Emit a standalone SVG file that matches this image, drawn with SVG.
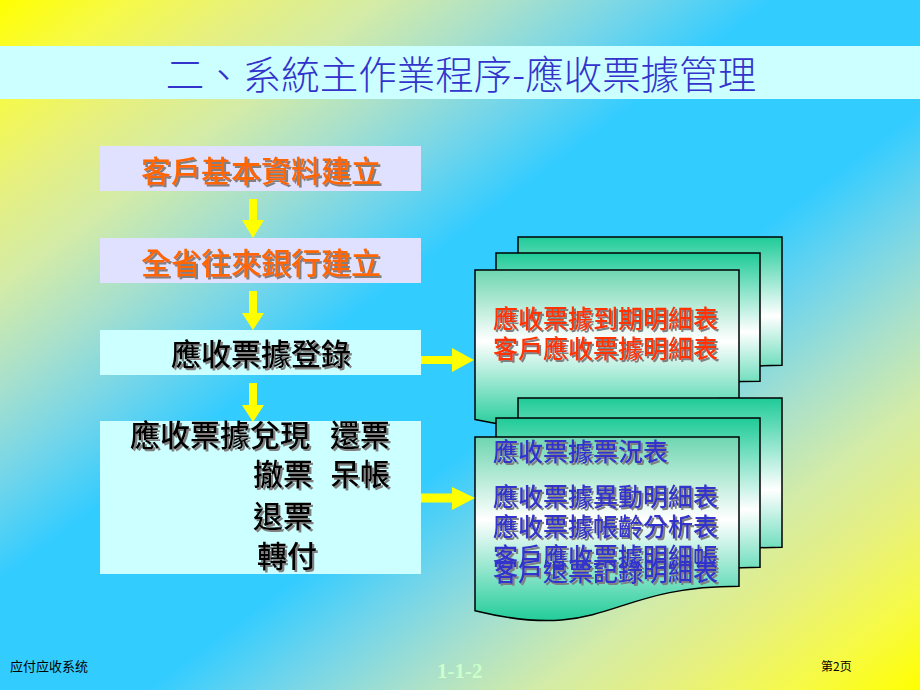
<svg xmlns="http://www.w3.org/2000/svg" width="920" height="690" viewBox="0 0 920 690">
<defs>
<linearGradient id="bg" x1="0" y1="0" x2="1" y2="1">
<stop offset="0" stop-color="#FFFF00"/>
<stop offset="0.07" stop-color="#F6FA48"/>
<stop offset="0.14" stop-color="#E6F080"/>
<stop offset="0.21" stop-color="#D2EBA8"/>
<stop offset="0.28" stop-color="#A8E0CC"/>
<stop offset="0.35" stop-color="#72D5EA"/>
<stop offset="0.42" stop-color="#33CCFF"/>
<stop offset="0.58" stop-color="#33CCFF"/>
<stop offset="0.65" stop-color="#72D5EA"/>
<stop offset="0.72" stop-color="#A8E0CC"/>
<stop offset="0.79" stop-color="#D2EBA8"/>
<stop offset="0.86" stop-color="#E6F080"/>
<stop offset="0.93" stop-color="#F6FA48"/>
<stop offset="1" stop-color="#FFFF00"/>
</linearGradient>
<linearGradient id="docFill" x1="0" y1="0" x2="0" y2="1">
<stop offset="0" stop-color="#1ECB98"/>
<stop offset="0.5" stop-color="#FFFFFF"/>
<stop offset="1" stop-color="#1ECB98"/>
</linearGradient>
<linearGradient id="docFront" x1="0" y1="0" x2="0" y2="1">
<stop offset="0" stop-color="#6ED6B0"/>
<stop offset="0.45" stop-color="#FFFFFF"/>
<stop offset="1" stop-color="#22CC99"/>
</linearGradient>
<filter id="sh" x="-5%" y="-20%" width="115%" height="150%">
<feDropShadow dx="2" dy="2" stdDeviation="0.4" flood-color="#808080" flood-opacity="1"/>
</filter>
</defs>
<style>
.cjk{font-family:"Noto Sans CJK TC","Noto Sans CJK SC",sans-serif;}
.box{stroke:none;}
.lav{fill:#E0E0FF;}
.cyan{fill:#CCFFFF;}
.orange{fill:#FF6600;font-size:30px;font-weight:500;}
.black{fill:#000000;font-size:30px;font-weight:500;}
.doc{stroke:#000000;stroke-width:1.5;}
.red{fill:#FF3300;font-size:25px;font-weight:500;}
.blue{fill:#3333CC;font-size:25px;font-weight:500;}
.arrow{fill:#FFFF00;stroke:none;}
</style>
<rect x="0" y="0" width="920" height="690" fill="url(#bg)"/>
<g id="title">
<rect x="0" y="46" width="920" height="53" fill="#CCFFFF"/>
<text x="461" y="89" text-anchor="middle" class="cjk" font-size="38.5" font-weight="300" fill="#3333CC">二、系統主作業程序-應收票據管理</text>
</g>
<g id="node-customer">
<rect x="100" y="146" width="321" height="45" class="box lav"/>
<text x="261" y="182" text-anchor="middle" class="cjk orange" filter="url(#sh)">客戶基本資料建立</text>
</g>
<g id="node-bank">
<rect x="100" y="238" width="321" height="45" class="box lav"/>
<text x="261" y="274" text-anchor="middle" class="cjk orange" filter="url(#sh)">全省往來銀行建立</text>
</g>
<g id="node-register">
<rect x="100" y="330" width="321" height="45" class="box cyan"/>
<text x="261" y="365" text-anchor="middle" class="cjk black" filter="url(#sh)">應收票據登錄</text>
</g>
<g id="node-process">
<rect x="100" y="421" width="321" height="153" class="box cyan"/>
<g class="cjk black" filter="url(#sh)">
<text x="130" y="446">應收票據兌現</text>
<text x="330" y="446">還票</text>
<text x="253" y="485">撤票</text>
<text x="330" y="485">呆帳</text>
<text x="253" y="527">退票</text>
<text x="257" y="567">轉付</text>
</g>
</g>
<g id="node-reports1">
<path class="doc" fill="url(#docFill)" d="M518,237 H782 V365.3 C650,365.3 650,414.2 518,386.4 Z"/>
<path class="doc" fill="url(#docFill)" d="M496,253 H760 V381.3 C628,381.3 628,430.2 496,402.4 Z"/>
<path class="doc" fill="url(#docFront)" d="M475,270 H739 V398.3 C607,398.3 607,447.2 475,419.4 Z"/>
<g class="cjk red" filter="url(#sh)">
<text x="493" y="328">應收票據到期明細表</text>
<text x="493" y="358">客戶應收票據明細表</text>
</g>
</g>
<g id="node-reports2">
<path class="doc" fill="url(#docFill)" d="M518,398 H782 V547.2 C650,547.2 650,604 518,571.7 Z"/>
<path class="doc" fill="url(#docFill)" d="M496,418 H760 V567.2 C628,567.2 628,624 496,591.7 Z"/>
<path class="doc" fill="url(#docFront)" d="M475,437 H739 V586.2 C607,586.2 607,643 475,610.7 Z"/>
<g class="cjk blue" filter="url(#sh)">
<text x="493" y="461">應收票據票況表</text>
<text x="493" y="506">應收票據異動明細表</text>
<text x="493" y="536">應收票據帳齡分析表</text>
<text x="493" y="566">客戶應收票據明細帳</text>
<text x="493" y="581">客戶退票記錄明細表</text>
</g>
</g>
<g id="connectors">
<polygon class="arrow" points="249,199 257,199 257,220 264,220 253,238 242,220 249,220"/>
<polygon class="arrow" points="249,291 257,291 257,313 264,313 253,330 242,313 249,313"/>
<polygon class="arrow" points="249,383 257,383 257,405 264,405 253,422 242,405 249,405"/>
<polygon class="arrow" points="421,356 452,356 452,348 474,360 452,372 452,364 421,364"/>
<polygon class="arrow" points="421,493.5 452,493.5 452,487 475,498 452,510 452,502.5 421,502.5"/>
</g>
<g id="footer">
<text x="10" y="671" font-family="'Noto Sans CJK SC',sans-serif" font-size="13" fill="#000000">应付应收系统</text>
<text x="437" y="678" font-family="'Liberation Serif',serif" font-size="21" font-weight="bold" fill="#CCFFCC">1-1-2</text>
<text x="821" y="671" font-family="'Noto Sans CJK SC',sans-serif" font-size="12" fill="#000000">第2页</text>
</g>
</svg>
